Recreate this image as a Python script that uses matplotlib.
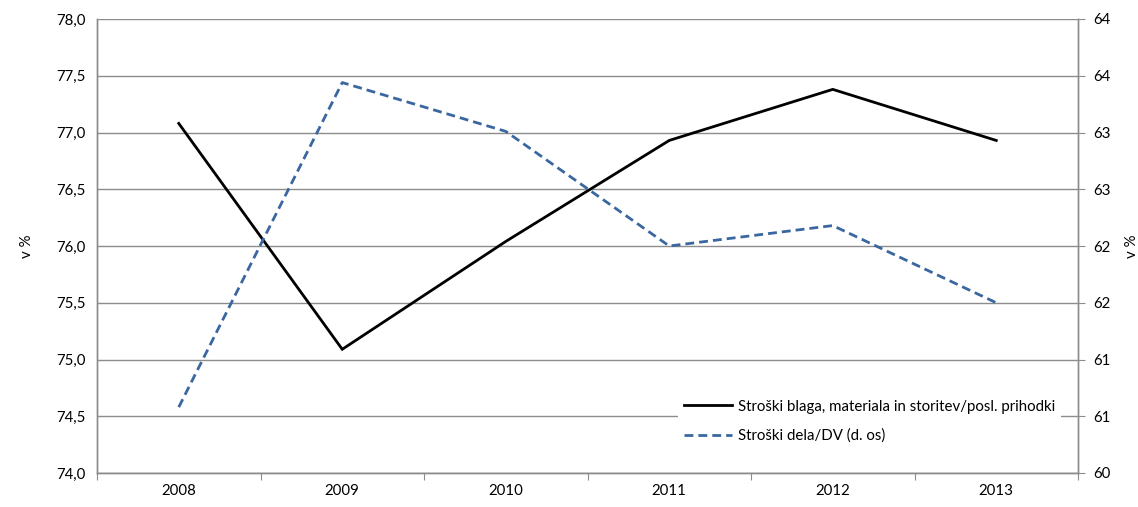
import numpy as np
import matplotlib
matplotlib.use("Agg")
import matplotlib.pyplot as plt
from matplotlib.ticker import FixedLocator, FuncFormatter

years = ["2008", "2009", "2010", "2011", "2012", "2013"]
stroski_blaga = [77.08, 75.09, 76.04, 76.93, 77.38, 76.93]
stroski_dela = [60.58, 63.44, 63.01, 62.0, 62.18, 61.5]
label_blaga = "Stroški blaga, materiala in storitev/posl. prihodki"
label_dela = "Stroški dela/DV (d. os)"
left_ticks = [74.0, 74.5, 75.0, 75.5, 76.0, 76.5, 77.0, 77.5, 78.0]
right_ticks = [60.0, 60.5, 61.0, 61.5, 62.0, 62.5, 63.0, 63.5, 64.0]

plt.rcParams['font.family'] = ['Lato', 'DejaVu Sans']
plt.rcParams['font.size'] = 10.8

grid_c = '#8c8c8c'
blue = '#3a67a0'

fig = plt.figure(figsize=(11.38, 5.07), dpi=100)
ax = fig.add_axes([97/1138, 1-473/507, (1078-97)/1138, (473-19)/507])
ax2 = ax.twinx()

x = np.arange(len(years)) + 0.5
l1, = ax.plot(x, stroski_blaga, color='black', lw=2.0, solid_joinstyle='miter', zorder=3)
l2, = ax2.plot(x, stroski_dela, color=blue, lw=2.0, ls=(0, (3.2, 1.8)), zorder=3)

ax.set_xlim(0, len(years))
ax.set_ylim(74, 78)
ax2.set_ylim(60, 64)

ax.xaxis.set_major_locator(FixedLocator(np.arange(len(years) + 1)))
ax.xaxis.set_major_formatter(FuncFormatter(lambda v, p: ""))
ax.xaxis.set_minor_locator(FixedLocator(x))
ax.xaxis.set_minor_formatter(FuncFormatter(lambda v, p: years[int(v)] if 0 <= int(v) < len(years) else ""))
ax.tick_params(axis='x', which='major', length=5, color=grid_c, direction='out')
ax.tick_params(axis='x', which='minor', length=0, pad=8)

ax.yaxis.set_major_locator(FixedLocator(left_ticks))
ax.yaxis.set_major_formatter(FuncFormatter(lambda v, p: f"{v:.1f}".replace('.', ',')))
ax.tick_params(axis='y', length=0, pad=8)
ax.grid(axis='y', color=grid_c, lw=1.0)
ax.set_axisbelow(True)

ax2.yaxis.set_major_locator(FixedLocator(right_ticks))
ax2.yaxis.set_major_formatter(FuncFormatter(lambda v, p: f"{int(np.floor(v + 0.5))}"))
ax2.tick_params(axis='y', length=5, color=grid_c, pad=6)

for a in (ax, ax2):
    for s in a.spines.values():
        s.set_color(grid_c)
        s.set_linewidth(1.0)
    a.spines['top'].set_visible(False)

ax.set_ylabel("v %", labelpad=16)
ax2.set_ylabel("v %", labelpad=10, rotation=90)

leg = ax2.legend([l1, l2], [label_blaga, label_dela], loc='upper left',
                 bbox_to_anchor=(670/1138, 1-386/507), bbox_transform=fig.transFigure,
                 frameon=True, facecolor='white', edgecolor='none', framealpha=1,
                 handlelength=3.2, handletextpad=0.4, labelspacing=1.0, borderpad=0.4,
                 fontsize=10.8)
leg.get_frame().set_linewidth(0)

fig.savefig("out.png", dpi=100)
